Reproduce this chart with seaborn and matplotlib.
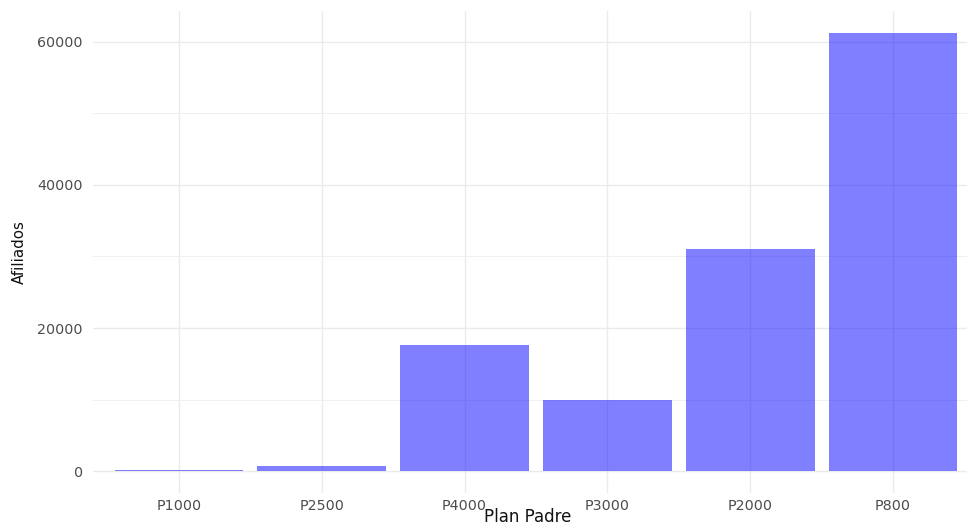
import matplotlib
matplotlib.use("Agg")
import matplotlib.pyplot as plt
import seaborn as sns
import pandas as pd
from matplotlib.ticker import MultipleLocator

# ---- data ----
planes = ["P1000", "P2500", "P4000", "P3000", "P2000", "P800"]
afiliados = [150, 650, 17600, 9900, 31100, 61250]
y_ticks = [0, 20000, 40000, 60000]
y_tick_labels = ["0", "20000", "40000", "60000"]
x_title = "Plan Padre"
y_title = "Afiliados"

df = pd.DataFrame({"plan": planes, "afiliados": afiliados})

sns.set_theme(style="white")
plt.rcParams["font.family"] = ["DejaVu Sans"]

W, H, DPI = 967, 531, 100
fig = plt.figure(figsize=(W / DPI, H / DPI), dpi=DPI)

# panel in pixel coordinates (ggplot-like, right edge slightly cropped)
left_px, right_px, top_px, bottom_px = 93.2, 978.8, 11.0, 493.0
ax = fig.add_axes([left_px / W, 1 - bottom_px / H,
                   (right_px - left_px) / W, (bottom_px - top_px) / H])

sns.barplot(data=df, x="plan", y="afiliados", order=planes, color="#0000FF",
            saturation=1, alpha=0.5, width=0.9, edgecolor="none", ax=ax)

ymax = max(afiliados)
ax.set_ylim(-0.05 * ymax, 1.05 * ymax)
ax.set_xlim(-0.6, len(planes) - 0.4)

ax.set_axisbelow(True)
ax.yaxis.set_major_locator(plt.FixedLocator(y_ticks))
ax.set_yticklabels(y_tick_labels)
ax.yaxis.set_minor_locator(MultipleLocator(10000))
ax.grid(which="major", axis="both", color="#EBEBEB", linewidth=1.0)
ax.grid(which="minor", axis="y", color="#F0F0F0", linewidth=0.7)

for s in ax.spines.values():
    s.set_visible(False)

ax.tick_params(axis="both", which="both", length=0)
ax.tick_params(axis="x", pad=4.5, labelsize=10.3, labelcolor="#4D4D4D")
ax.tick_params(axis="y", pad=7.5, labelsize=10.3, labelcolor="#4D4D4D")

ax.set_xlabel(x_title, fontsize=12, color="#111111")
ax.set_ylabel(y_title, fontsize=10.8, color="#111111")
ax.xaxis.set_label_coords((528 - left_px) / (right_px - left_px),
                          -(508 - bottom_px) / (bottom_px - top_px))
ax.yaxis.set_label_coords(-(left_px - 26.5) / (right_px - left_px), 0.5)

fig.savefig("out.png", dpi=DPI, facecolor="white")
